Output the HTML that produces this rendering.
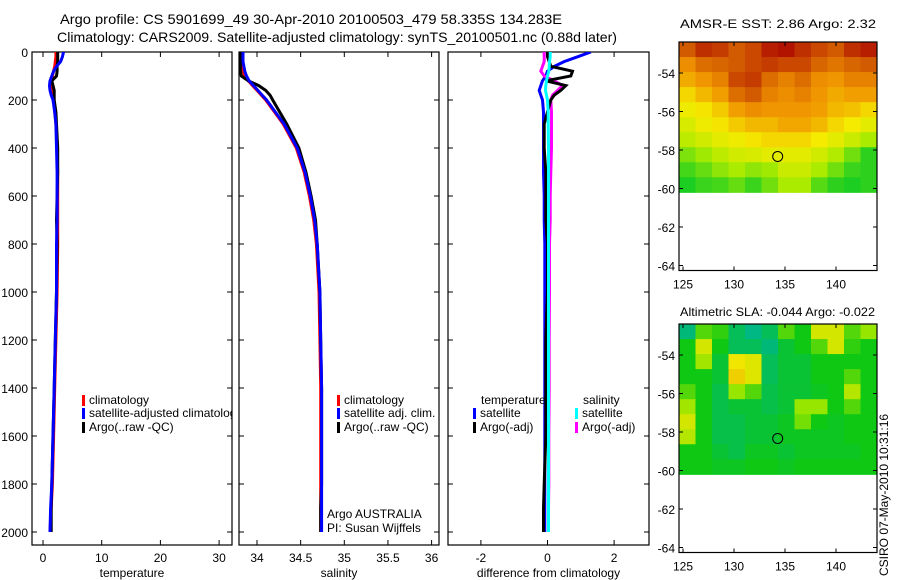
<!DOCTYPE html>
<html><head><meta charset="utf-8">
<style>
html,body{margin:0;padding:0;background:#fff;}
svg{display:block;font-family:"Liberation Sans",Arial,sans-serif;}
text{fill:#000;}
</style></head>
<body>
<svg id="fig" width="900" height="580" viewBox="0 0 900 580">
<text x="60" y="24" font-size="14" textLength="502" lengthAdjust="spacingAndGlyphs">Argo profile: CS 5901699_49 30-Apr-2010 20100503_479 58.335S 134.283E</text>
<text x="57" y="42" font-size="14" textLength="560" lengthAdjust="spacingAndGlyphs">Climatology: CARS2009. Satellite-adjusted climatology: synTS_20100501.nc (0.88d later)</text>
<g id="plots"></g>
<text x="680" y="28" font-size="12" textLength="196" lengthAdjust="spacingAndGlyphs">AMSR-E SST: 2.86  Argo: 2.32</text>
<text x="680" y="316" font-size="12" textLength="195" lengthAdjust="spacingAndGlyphs">Altimetric SLA: -0.044  Argo: -0.022</text>
<text transform="translate(888,576) rotate(-90)" font-size="12">CSIRO 07-May-2010 10:31:16</text>
</svg>
<script>
const depths=[0,20,40,60,80,100,120,140,160,180,200,250,300,400,500,600,700,800,1000,1200,1400,1600,1800,1900,2000];
const tempClim=[2.2,2.2,2.1,2.0,1.8,1.6,1.4,1.3,1.4,1.6,1.8,2.0,2.2,2.4,2.5,2.5,2.5,2.5,2.4,2.2,2.0,1.8,1.6,1.4,1.2];
const tempSat=[3.5,3.3,3.0,2.3,1.8,1.5,1.2,1.1,1.2,1.4,1.7,2.0,2.2,2.3,2.4,2.4,2.4,2.3,2.3,2.1,1.9,1.7,1.5,1.3,1.2];
const tempArgo=[2.5,2.5,2.5,2.4,2.4,2.3,1.5,1.7,1.9,1.9,1.9,2.2,2.3,2.5,2.5,2.4,2.3,2.4,2.3,2.1,1.9,1.7,1.5,1.4,1.4];
const salClim=[33.82,33.82,33.82,33.83,33.84,33.86,33.9,33.95,34.0,34.05,34.1,34.2,34.3,34.45,34.54,34.6,34.65,34.68,34.71,34.72,34.73,34.73,34.73,34.73,34.73];
const salSat=[33.84,33.84,33.84,33.85,33.86,33.88,33.91,33.96,34.01,34.06,34.11,34.21,34.31,34.46,34.55,34.61,34.66,34.69,34.72,34.73,34.74,34.74,34.74,34.74,34.74];
const salArgo=[33.81,33.81,33.81,33.81,33.81,33.82,33.9,34.02,34.1,34.15,34.18,34.26,34.34,34.48,34.56,34.62,34.67,34.69,34.72,34.73,34.74,34.74,34.74,34.73,34.73];
const dTempSat=[1.3,0.9,0.5,0.2,0.0,-0.05,-0.15,-0.2,-0.25,-0.2,-0.15,-0.12,-0.12,-0.12,-0.12,-0.1,-0.1,-0.08,-0.08,-0.08,-0.08,-0.08,-0.08,-0.08,-0.08];
const dTempArgo=[0.0,0.0,0.05,0.1,0.75,0.7,-0.05,0.55,0.4,0.2,0.1,0.0,-0.1,-0.1,-0.05,-0.05,-0.05,0.0,0.0,-0.05,-0.05,-0.05,-0.1,-0.12,-0.12];
const dSalSat=[0.08,0.08,0.06,0.05,0.04,0.0,-0.03,-0.05,-0.06,-0.03,0.0,0.02,0.02,0.03,0.03,0.03,0.03,0.03,0.03,0.03,0.03,0.03,0.03,0.03,0.03];
const dSalArgo=[-0.1,-0.1,-0.1,-0.15,-0.2,-0.1,0.2,0.45,0.3,0.15,0.1,0.12,0.12,0.12,0.1,0.08,0.08,0.06,0.06,0.05,0.05,0.04,0.04,0.03,0.03];
const depthTicks=[0,200,400,600,800,1000,1200,1400,1600,1800,2000];
const tempTicks=[0,10,20,30];
const salTicks=[34,34.5,35,35.5,36];
const salTickLabels=["34","34.5","35","35.5","36"];
const diffTicks=[-2,0,2];
const latTicks=[-54,-56,-58,-60,-62,-64];
const lonTicks=[125,130,135,140];
const sstGrid=[
[0.85,0.92,0.9,0.85,0.88,0.95,0.97,0.92,0.88,0.85,0.92,0.95],
[0.72,0.8,0.82,0.85,0.88,0.9,0.88,0.88,0.82,0.78,0.82,0.85],
[0.65,0.7,0.75,0.88,0.9,0.8,0.75,0.8,0.72,0.7,0.75,0.75],
[0.55,0.62,0.68,0.8,0.85,0.75,0.72,0.75,0.7,0.65,0.68,0.68],
[0.48,0.52,0.58,0.68,0.72,0.7,0.7,0.7,0.68,0.62,0.6,0.55],
[0.42,0.48,0.52,0.58,0.62,0.62,0.66,0.66,0.62,0.55,0.5,0.45],
[0.35,0.4,0.45,0.48,0.52,0.55,0.55,0.55,0.5,0.45,0.38,0.3],
[0.22,0.28,0.35,0.4,0.42,0.45,0.45,0.45,0.4,0.32,0.2,0.08],
[0.12,0.18,0.25,0.3,0.25,0.28,0.38,0.38,0.3,0.2,0.1,0.08],
[0.05,0.1,0.12,0.18,0.1,0.2,0.3,0.3,0.15,0.08,0.05,0.08]];
const slaGrid=[
[0.35,0.6,0.55,0.4,0.3,0.4,0.6,0.5,0.8,0.8,0.6,0.7],
[0.5,0.8,0.5,0.4,0.4,0.35,0.45,0.5,0.6,0.8,0.55,0.5],
[0.5,0.72,0.45,0.85,0.82,0.4,0.45,0.45,0.5,0.5,0.5,0.5],
[0.5,0.5,0.45,0.9,0.82,0.4,0.45,0.45,0.5,0.5,0.6,0.5],
[0.6,0.5,0.42,0.7,0.6,0.42,0.45,0.45,0.48,0.5,0.75,0.5],
[0.72,0.5,0.42,0.45,0.45,0.42,0.45,0.7,0.7,0.5,0.6,0.5],
[0.8,0.5,0.42,0.42,0.45,0.45,0.48,0.65,0.5,0.48,0.5,0.5],
[0.75,0.5,0.42,0.42,0.45,0.45,0.48,0.48,0.48,0.48,0.5,0.5],
[0.5,0.5,0.45,0.42,0.48,0.48,0.45,0.48,0.48,0.48,0.48,0.5],
[0.5,0.5,0.48,0.48,0.5,0.5,0.48,0.5,0.5,0.5,0.5,0.5]];
const argoLon=134.283, argoLat=-58.335;

const NS="http://www.w3.org/2000/svg";
const root=document.getElementById('plots');
function mk(tag,attrs,parent){const e=document.createElementNS(NS,tag);for(const k in attrs)e.setAttribute(k,attrs[k]);(parent||root).appendChild(e);return e;}
function txt(x,y,s,size,anchor,parent){const t=mk('text',{x:x,y:y,'font-size':size,'text-anchor':anchor||'middle'},parent);t.textContent=s;return t;}
const yD=d=>52+d*0.24;
const xT=v=>43+v*5.87;
const xS=v=>257+(v-34)*87.3;
const xDf=v=>547.5+v*33.3;

function panel(name,x0,x1,xf,ticks,labels,xtitle,leftLabels){
  const g=mk('g',{});
  
  
  const cp=mk('clipPath',{id:'clip-'+name},g);
  mk('rect',{x:x0,y:52,width:x1-x0,height:493},cp);
  mk('rect',{x:x0,y:52,width:x1-x0,height:493,fill:'none',stroke:'#000','stroke-width':1.2},g);
  depthTicks.forEach(d=>{
    mk('line',{x1:x0,x2:x0+5,y1:yD(d),y2:yD(d),stroke:'#000'},g);
    mk('line',{x1:x1,x2:x1-5,y1:yD(d),y2:yD(d),stroke:'#000'},g);
    if(leftLabels){const t=txt(x0-4,yD(d)+5,String(d),12,'end',g);}
  });
  ticks.forEach((v,i)=>{
    const x=xf(v);
    mk('line',{x1:x,x2:x,y1:545,y2:540,stroke:'#000'},g);
    mk('line',{x1:x,x2:x,y1:52,y2:57,stroke:'#000'},g);
    const t=txt(x,562,labels[i],12,'middle',g);
    
    
  });
  const tt=txt((x0+x1)/2,577,xtitle,12,'middle',g);
  
  
  return g;
}
function series(g,name,vals,xf,color,clip){
  const pts=vals.map((v,i)=>xf(v).toFixed(1)+','+yD(depths[i]).toFixed(1)).join(' ');
  const p=mk('polyline',{points:pts,fill:'none',stroke:color,'stroke-width':3,'clip-path':'url(#clip-'+clip+')'},g);
  
  
}
function legend(g,x,y,color,label,name){
  mk('rect',{x:x,y:y-9,width:3,height:11,fill:color},g);
  const t=txt(x+7,y,label,12,'start',g);
  
  
}

const g1=panel('temperature-panel',32,232,xT,tempTicks,tempTicks.map(String),'temperature',true);
series(g1,'temp-climatology-line',tempClim,xT,'#f00','temperature-panel');
series(g1,'temp-argo-line',tempArgo,xT,'#000','temperature-panel');
series(g1,'temp-satellite-line',tempSat,xT,'#00f','temperature-panel');
const lg1=mk('g',{'clip-path':'url(#clip-temperature-panel)'},g1);
legend(lg1,82,404,'#f00','climatology','legend-climatology');
legend(lg1,82,417,'#00f','satellite-adjusted climatology','legend-satellite');
legend(lg1,82,431,'#000','Argo(..raw -QC)','legend-argo');

const g2=panel('salinity-panel',239,439,xS,salTicks,salTickLabels,'salinity',false);
series(g2,'sal-climatology-line',salClim,xS,'#f00','salinity-panel');
series(g2,'sal-argo-line',salArgo,xS,'#000','salinity-panel');
series(g2,'sal-satellite-line',salSat,xS,'#00f','salinity-panel');
legend(g2,337,404,'#f00','climatology','legend-climatology');
legend(g2,337,417,'#00f','satellite adj. clim.','legend-satellite');
legend(g2,337,431,'#000','Argo(..raw -QC)','legend-argo');
const a1=txt(327,518,'Argo AUSTRALIA',12,'start',g2);
const a2=txt(327,532,'PI: Susan Wijffels',12,'start',g2);

const g3=panel('difference-panel',448,649,xDf,diffTicks,diffTicks.map(String),'difference from climatology',false);
series(g3,'dtemp-satellite-line',dTempSat,xDf,'#00f','difference-panel');
series(g3,'dsal-argo-line',dSalArgo,xDf,'#f0f','difference-panel');
series(g3,'dtemp-argo-line',dTempArgo,xDf,'#000','difference-panel');
series(g3,'dsal-satellite-line',dSalSat,xDf,'#0ff','difference-panel');
const h1=txt(481,404,'temperature',12,'start',g3);
const h2=txt(583,404,'salinity',12,'start',g3);
legend(g3,473,417,'#00f','satellite','legend-temp-satellite');
legend(g3,473,431,'#000','Argo(-adj)','legend-temp-argo');
legend(g3,575,417,'#0ff','satellite','legend-sal-satellite');
legend(g3,575,431,'#f0f','Argo(-adj)','legend-sal-argo');

function lerpC(stops,v){
  v=Math.max(0,Math.min(1,v));
  for(let i=0;i<stops.length-1;i++){
    const [a,ca]=stops[i],[b,cb]=stops[i+1];
    if(v<=b){const t=(v-a)/(b-a);return 'rgb('+ca.map((c,k)=>Math.round(c+(cb[k]-c)*t)).join(',')+')';}
  }
  return 'rgb('+stops[stops.length-1][1].join(',')+')';
}
const sstStops=[[0,[0,200,40]],[0.3,[170,235,0]],[0.5,[245,235,0]],[0.7,[240,150,0]],[0.85,[210,90,0]],[1,[170,0,0]]];
const slaStops=[[0,[0,180,200]],[0.35,[0,185,120]],[0.5,[15,200,20]],[0.7,[150,230,0]],[0.85,[240,230,0]],[1,[240,160,0]]];
function mapPanel(name,top,grid,stops){
  const L=679,R=877;
  const yL=lat=>top+31+(-54-lat)*19.25;
  const xL=lon=>683+(lon-125)*10.2;
  const g=mk('g',{});
  
  
  const rows=grid.length,cols=grid[0].length;
  const yTop=top, yBot=yL(-60.2);
  const cw=(R-L)/cols, ch=(yBot-yTop)/rows;
  grid.forEach((row,r)=>row.forEach((v,c)=>{
    const cell=mk('rect',{x:L+c*cw,y:yTop+r*ch,width:cw+0.5,height:ch+0.5,fill:lerpC(stops,v)},g);
    
    
  }));
  const bot=yL(-64)+5;
  mk('rect',{x:L,y:top,width:R-L,height:bot-top,fill:'none',stroke:'#000','stroke-width':1.2},g);
  latTicks.forEach(lat=>{
    const y=yL(lat);
    mk('line',{x1:L,x2:L+4,y1:y,y2:y,stroke:'#000'},g);
    mk('line',{x1:R,x2:R-4,y1:y,y2:y,stroke:'#000'},g);
    const t=txt(L-4,y+5,String(lat),12,'end',g);
    
    
  });
  lonTicks.forEach(lon=>{
    const x=xL(lon);
    mk('line',{x1:x,x2:x,y1:bot,y2:bot-4,stroke:'#000'},g);
    mk('line',{x1:x,x2:x,y1:top,y2:top+4,stroke:'#000'},g);
    const t=txt(x,bot+18,String(lon),12,'middle',g);
    
    
  });
  const m=mk('circle',{cx:xL(argoLon),cy:yL(argoLat),r:5,fill:'none',stroke:'#000','stroke-width':1},g);
  
  
}
mapPanel('sst-map',42,sstGrid,sstStops);
mapPanel('sla-map',324,slaGrid,slaStops);
</script>
</body></html>
